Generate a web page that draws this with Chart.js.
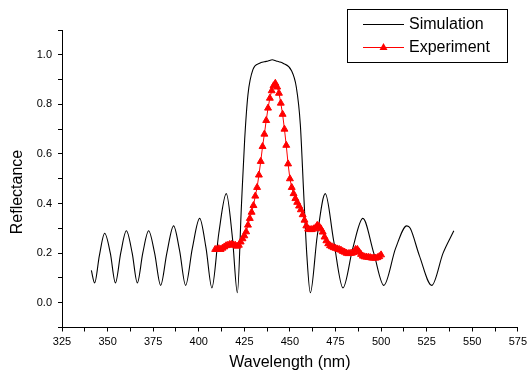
<!DOCTYPE html>
<html>
<head>
<meta charset="utf-8">
<script src="https://cdn.jsdelivr.net/npm/chart.js@4.4.1/dist/chart.umd.min.js"></script>
<style>
  html, body { margin: 0; padding: 0; background: #fff; }
</style>
</head>
<body>
<canvas id="chart1" width="531" height="381"></canvas>
<script>
// Curva simulada (nm, reflectancia)
const simWavelength = [
  341.1, 342.9, 345.5, 348.4, 351.5, 354.3, 357.2, 360.3, 363.5, 366.3,
  369.3, 372.5, 375.8, 379.1, 382.5, 386.2, 389.5, 392.8, 396.5, 400.5,
  404.0, 407.2, 411.0, 415.1, 418.5, 421.2, 423.4, 425.2, 427.0, 429.7,
  433.4, 436.0, 438.0, 440.3, 442.5, 444.0, 446.2, 450.8, 453.5, 455.7,
  457.5, 459.3, 461.2, 465.0, 469.4, 474.0, 479.1, 484.5, 490.0, 496.0,
  501.5, 508.0, 514.1, 516.0, 521.0, 527.8, 534.0, 539.9,
];
const simReflectance = [
  0.13, 0.08, 0.19, 0.28, 0.20, 0.08, 0.20, 0.29, 0.20, 0.08,
  0.20, 0.29, 0.20, 0.07, 0.20, 0.31, 0.21, 0.07, 0.22, 0.34,
  0.22, 0.06, 0.28, 0.44, 0.26, 0.04, 0.39, 0.66, 0.84, 0.94,
  0.966, 0.972, 0.975, 0.98, 0.975, 0.972, 0.966, 0.937, 0.87, 0.72,
  0.45, 0.19, 0.04, 0.27, 0.44, 0.25, 0.06, 0.22, 0.34, 0.20,
  0.07, 0.22, 0.31, 0.30, 0.19, 0.07, 0.20, 0.29,
];

// Datos experimentales
const expWavelength = [
  409, 410, 411, 412, 413, 414, 415, 416, 417, 418, 419, 420, 421, 422, 423,
  424, 425, 426, 427, 428, 429, 430, 431, 432, 433, 434, 435, 436, 437, 438,
  439, 440, 441, 442, 443, 444, 445, 446, 447, 448, 449, 450, 451, 452, 453,
  454, 455, 456, 457, 458, 459, 460, 461, 462, 463, 464, 465, 466, 467, 468,
  469, 470, 471, 472, 473, 474, 475, 476, 477, 478, 479, 480, 481, 482, 483,
  484, 485, 486, 487, 488, 489, 490, 491, 492, 493, 494, 495, 496, 497, 498,
  499, 500,
];
const expReflectance = [
  0.215, 0.215, 0.218, 0.215, 0.22, 0.225, 0.23, 0.232, 0.235, 0.235, 0.233, 0.232, 0.228, 0.232, 0.245,
  0.258, 0.27, 0.286, 0.313, 0.34, 0.365, 0.392, 0.43, 0.465, 0.515, 0.57, 0.63, 0.68, 0.735, 0.785,
  0.825, 0.855, 0.875, 0.885, 0.87, 0.845, 0.805, 0.76, 0.7, 0.635, 0.56, 0.5, 0.465, 0.44, 0.42,
  0.405, 0.39, 0.375, 0.355, 0.333, 0.31, 0.297, 0.295, 0.295, 0.298, 0.302, 0.312, 0.308, 0.298, 0.285,
  0.265, 0.25, 0.238, 0.23, 0.226, 0.222, 0.22, 0.217, 0.215, 0.212, 0.207, 0.204, 0.2, 0.198, 0.199,
  0.2, 0.203, 0.215, 0.215, 0.205, 0.195, 0.188, 0.185, 0.184, 0.183, 0.182, 0.18, 0.18, 0.18, 0.182,
  0.186, 0.193,
];

const fontFamily = "'Liberation Sans', Arial, sans-serif";
Chart.defaults.font.family = fontFamily;
Chart.defaults.color = "#000";

// Leyenda con recuadro y título del eje Y
const legendBox = {
  id: "legendBox",
  afterDraw(chart) {
    const ctx = chart.ctx;
    ctx.save();
    ctx.strokeStyle = "#000";
    ctx.lineWidth = 1;
    ctx.strokeRect(347.5, 9.5, 160, 53);

    ctx.font = "16px " + fontFamily;
    ctx.textBaseline = "middle";
    ctx.fillStyle = "#000";

    // Simulation
    ctx.beginPath();
    ctx.moveTo(363, 24.5);
    ctx.lineTo(404, 24.5);
    ctx.strokeStyle = "#000";
    ctx.stroke();
    ctx.fillText("Simulation", 409, 25);

    // Experiment
    ctx.beginPath();
    ctx.moveTo(363, 47.5);
    ctx.lineTo(404, 47.5);
    ctx.strokeStyle = "#ff0000";
    ctx.stroke();
    ctx.beginPath();
    ctx.moveTo(383.5, 43);
    ctx.lineTo(387.5, 50);
    ctx.lineTo(379.5, 50);
    ctx.closePath();
    ctx.fillStyle = "#ff0000";
    ctx.fill();
    ctx.fillStyle = "#000";
    ctx.fillText("Experiment", 409, 48);

    // Título eje Y
    ctx.translate(18, 192);
    ctx.rotate(-Math.PI / 2);
    ctx.textAlign = "center";
    ctx.fillText("Reflectance", 0, 0);
    ctx.restore();
  },
};

var ctx1 = document.getElementById("chart1").getContext("2d");
var chart1 = new Chart(ctx1, {
  type: "line",
  data: {
    datasets: [
      {
        label: "Simulation",
        data: simWavelength.map((x, i) => ({ x: x, y: simReflectance[i] })),
        borderColor: "#000",
        borderWidth: 1.1,
        pointRadius: 0,
        cubicInterpolationMode: "monotone",
        fill: false,
        order: 1,
      },
      {
        label: "Experiment",
        data: expWavelength.map((x, i) => ({ x: x, y: expReflectance[i] })),
        borderColor: "#ff0000",
        backgroundColor: "#ff0000",
        borderWidth: 1,
        pointStyle: "triangle",
        pointRadius: 4,
        pointBorderWidth: 1,
        pointBackgroundColor: "#ff0000",
        pointBorderColor: "#ff0000",
        fill: false,
        order: 0,
      },
    ],
  },
  options: {
    responsive: false,
    animation: false,
    layout: {
      padding: { top: 30, right: 13, left: 0, bottom: 0 },
    },
    plugins: {
      legend: { display: false },
      tooltip: { enabled: false },
    },
    scales: {
      x: {
        type: "linear",
        min: 325,
        max: 575,
        border: { color: "#000", width: 1 },
        grid: { drawOnChartArea: false, drawTicks: true, tickLength: 4, color: "#000" },
        ticks: {
          stepSize: 12.5,
          autoSkip: false,
          maxTicksLimit: 40,
          maxRotation: 0,
          padding: 4,
          font: { size: 11 },
          callback: function (v) {
            return v % 25 === 0 ? v : "";
          },
        },
        title: {
          display: true,
          text: "Wavelength (nm)",
          font: { size: 16 },
          padding: { top: 4, bottom: 9 },
        },
        afterFit: function (s) {
          s.height = 53.5;
        },
      },
      y: {
        min: -0.1,
        max: 1.1,
        border: { color: "#000", width: 1 },
        grid: { drawOnChartArea: false, drawTicks: true, tickLength: 4, color: "#000" },
        ticks: {
          stepSize: 0.1,
          autoSkip: false,
          maxTicksLimit: 40,
          padding: 6,
          font: { size: 11 },
          callback: function (v) {
            const k = Math.round(v * 10);
            return k >= 0 && k <= 10 && k % 2 === 0 ? (k / 10).toFixed(1) : "";
          },
        },
        afterFit: function (s) {
          s.width = 62;
        },
      },
    },
  },
  plugins: [legendBox],
});
</script>
</body>
</html>
